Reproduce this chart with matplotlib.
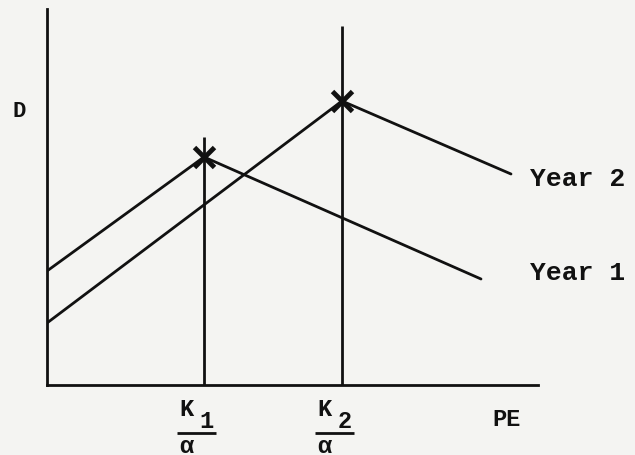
import matplotlib
matplotlib.use("Agg")
import matplotlib.pyplot as plt
from matplotlib.transforms import offset_copy

# PE / D in arbitrary units (schematic diagram)
k_values = [3.14, 5.9]
k_labels = ["1", "2"]
k_line_tops = [4.96, 7.18]

year1_pe = [0.0, 3.14, 8.68]
year1_d = [2.28, 4.56, 2.12]
year2_pe = [0.0, 5.9, 9.28]
year2_d = [1.24, 5.68, 4.22]
series_names = ["Year 1", "Year 2"]
label_pe = 9.66

pe_max = 9.82
d_max = 7.52

bg = "#f4f4f2"
ink = "#111111"
font = "Liberation Mono"

fig = plt.figure(figsize=(6.35, 4.56), dpi=100, facecolor=bg)
ax = fig.add_axes([47 / 635, 70 / 456, 491 / 635, 376 / 456])
ax.set_facecolor(bg)
ax.set_xlim(0, pe_max)
ax.set_ylim(0, d_max)

for side in ["top", "right"]:
    ax.spines[side].set_visible(False)
for side in ["left", "bottom"]:
    ax.spines[side].set_linewidth(2.0)
    ax.spines[side].set_color(ink)
ax.set_xticks([])
ax.set_yticks([])

# vertical lines at K/alpha
for k, top in zip(k_values, k_line_tops):
    ax.plot([k, k], [0, top], color=ink, lw=2.0, solid_capstyle="butt", clip_on=False)

# demand curves, label baseline nudged per series
label_dy = [0, -8]
for pe, d, name, dy in zip([year1_pe, year2_pe], [year1_d, year2_d], series_names, label_dy):
    ax.plot(pe, d, color=ink, lw=2.0, solid_capstyle="round")
    ax.plot(pe[1], d[1], marker="x", color=ink, ms=14, mew=3.5)
    ax.annotate(name, (label_pe, d[-1]), xytext=(0, dy), textcoords="offset points",
                fontsize=19, fontfamily=font, fontweight="bold", color=ink,
                ha="left", va="baseline", annotation_clip=False)

# K/alpha labels under the axis
bar_trans = offset_copy(ax.transData, fig=fig, y=-34.5, units="points")
for k, sub in zip(k_values, k_labels):
    ax.annotate("K", (k, 0), xytext=(-12.6, -21.6), textcoords="offset points",
                fontsize=17, fontfamily=font, fontweight="bold", color=ink,
                ha="center", va="baseline", annotation_clip=False)
    ax.annotate(sub, (k, 0), xytext=(1.8, -30.2), textcoords="offset points",
                fontsize=17, fontfamily=font, fontweight="bold", color=ink,
                ha="center", va="baseline", annotation_clip=False)
    ax.plot([k - 0.54, k + 0.24], [0, 0], color=ink, lw=2.0,
            transform=bar_trans, clip_on=False, solid_capstyle="butt")
    ax.annotate("α", (k, 0), xytext=(-12.6, -48.5), textcoords="offset points",
                fontsize=17, fontfamily=font, fontweight="bold", color=ink,
                ha="center", va="baseline", annotation_clip=False)

ax.text(0.908, -0.106, "PE", transform=ax.transAxes, fontsize=17,
        fontfamily=font, fontweight="bold", color=ink, ha="left", va="baseline")
ax.text(-0.071, 0.715, "D", transform=ax.transAxes, fontsize=16,
        fontfamily=font, fontweight="bold", color=ink, ha="left", va="baseline")

fig.savefig("out.png", dpi=100, facecolor=bg)
